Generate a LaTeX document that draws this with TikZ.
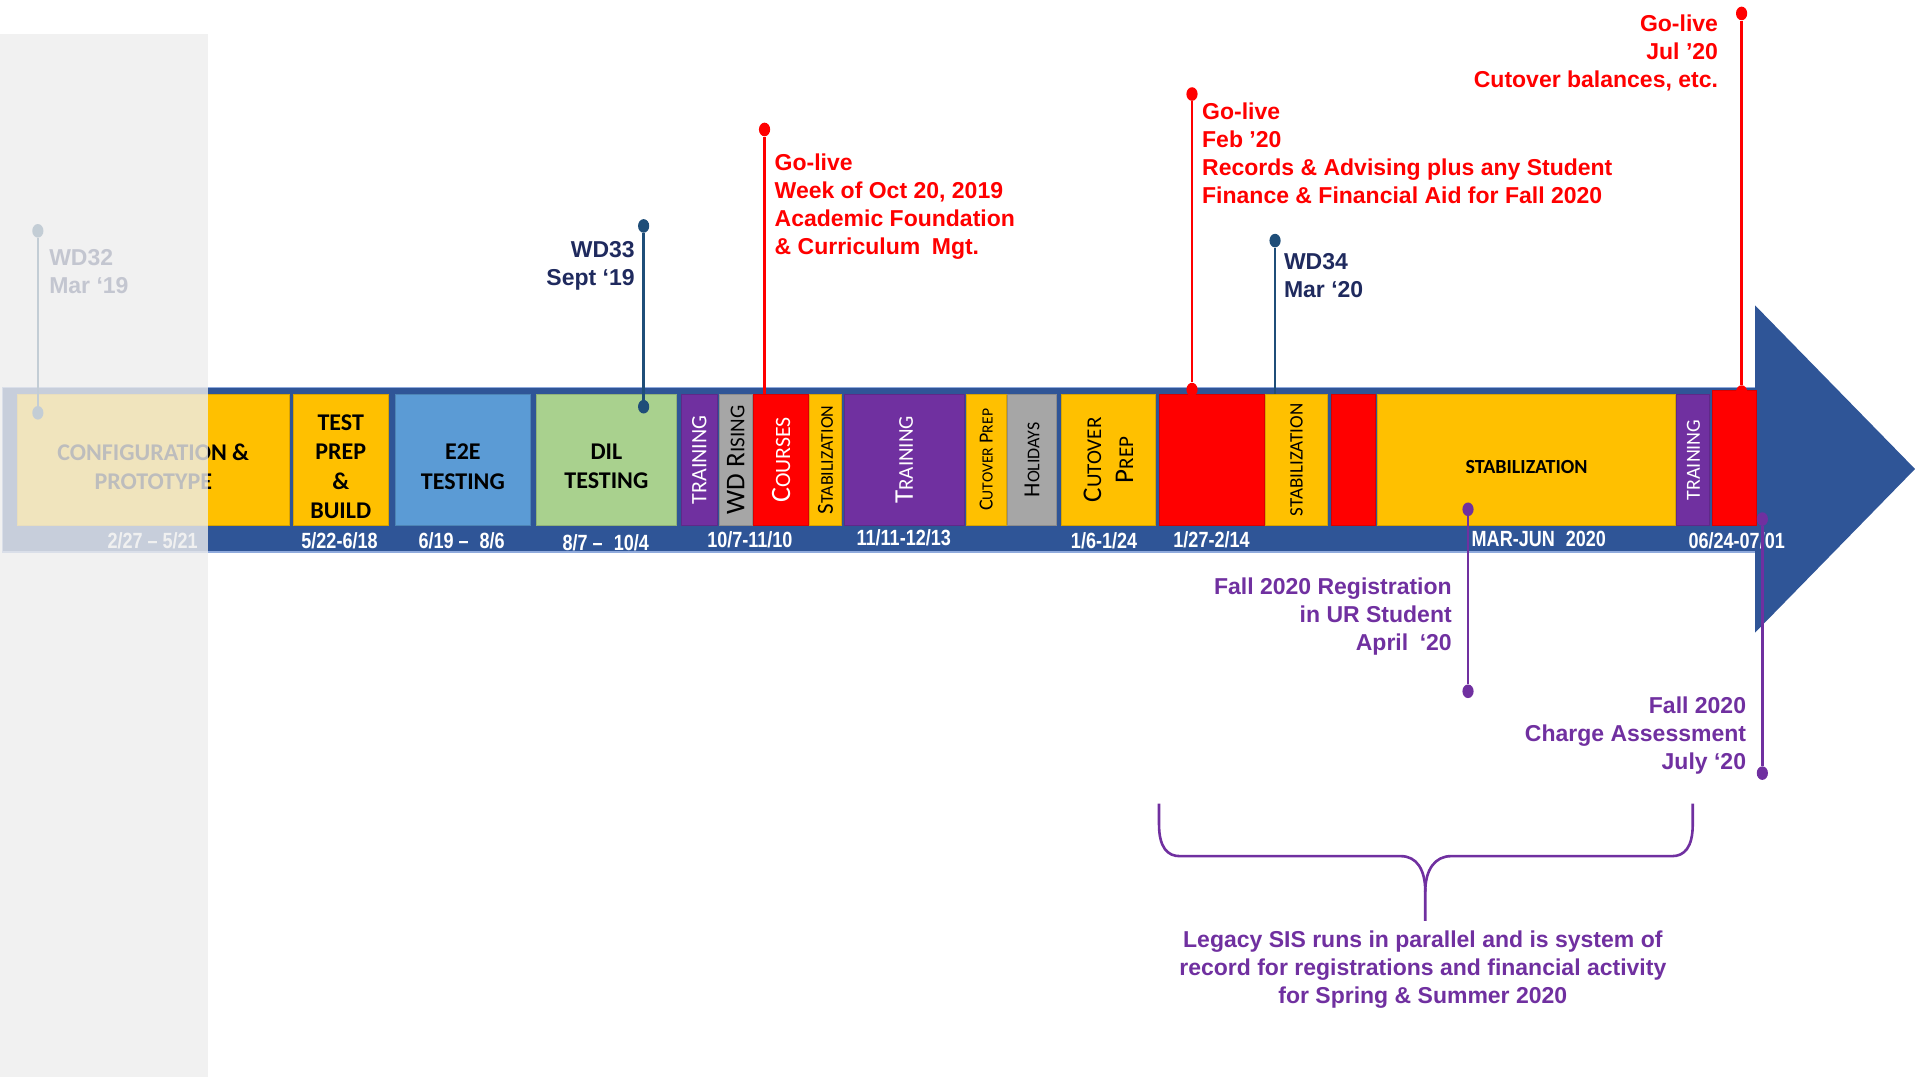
\documentclass[tikz,border=0pt]{standalone}
\usepackage{fontspec}
\usepackage{graphicx}
\setmainfont{Liberation Sans}
\newfontfamily\calfont{Carlito}
\newfontfamily\narrowfont[FakeStretch=0.82]{Liberation Sans}
\usetikzlibrary{fit, shapes.geometric}

\definecolor{bandblue}{HTML}{2F5597}
\definecolor{bandedge}{HTML}{8FAADC}
\definecolor{gold}{HTML}{FFC000}
\definecolor{skyblue}{HTML}{5B9BD5}
\definecolor{leaf}{HTML}{A9D18E}
\definecolor{phpurple}{HTML}{7030A0}
\definecolor{phgrey}{HTML}{A6A6A6}
\definecolor{phred}{HTML}{FF0000}
\definecolor{navyline}{HTML}{1F4E79}
\definecolor{navytext}{HTML}{1F2A5E}
\definecolor{fade}{HTML}{EDEDED}

\newcommand\smc[1]{\scalebox{0.78}{#1}}

\tikzset{
  phasebox/.style={fill=#1, draw=#1!85!black, line width=0.4pt, inner sep=0pt, outer sep=0pt},
  boxtxt/.style={font=\calfont\bfseries\fontsize{12}{14.6}\selectfont, align=center, inner sep=0pt, yshift=-3.4pt},
  vtxt/.style={rotate=90, inner sep=0pt, font=\calfont\fontsize{#1}{#1}\selectfont},
  datetxt/.style={text=white, inner sep=0pt, font=\narrowfont\bfseries\fontsize{11}{13}\selectfont},
  mtxt/.style={inner sep=0pt, font=\bfseries\fontsize{11.5}{14}\selectfont},
  mdot/.style={ellipse, fill=#1, inner sep=0pt, minimum width=5.6pt, minimum height=6.8pt},
  mline/.style={draw=#1, line width=1.3pt},
}

\begin{document}
\begin{tikzpicture}[x=0.6107pt, y=-0.6107pt]
\useasboundingbox (0,0) rectangle (1568,882);

% timeline band and arrow head
\draw[fill=bandblue, draw=bandedge, line width=0.6pt] (2,317) rectangle (1438,452);
\fill[bandblue] (1437,250) -- (1568,384) -- (1437,518) -- cycle;

% phases
\node[phasebox=gold, fit={(14,323) (237,430)}] (cfg) {};
\node[boxtxt] (cfgt) at (cfg) {CONFIGURATION \&\\PROTOTYPE};
\node[phasebox=gold, fit={(240,323) (318,430)}] (tpb) {};
\node[boxtxt] (tpbt) at (tpb) {TEST\\PREP\\\&\\BUILD};
\node[phasebox=skyblue, fit={(324,323) (434,430)}] (e2e) {};
\node[boxtxt] (e2et) at (e2e) {E2E\\TESTING};
\node[phasebox=leaf, fit={(439,323) (554,430)}] (dil) {};
\node[boxtxt] (dilt) at (dil) {DIL\\TESTING};

\node[phasebox=phpurple, fit={(558,323) (587,430)}] (tr1) {};
\node[vtxt=11, text=white] (tr1t) at (tr1) {TRAINING};
\node[phasebox=phgrey, fit={(589,323) (616,430)}] (wdr) {};
\node[vtxt=13.5] (wdrt) at (wdr) {WD R\smc{ISING}};
\node[phasebox=phred, fit={(617,323) (662,430)}] (crs) {};
\node[vtxt=14, text=white] (crst) at (crs) {C\smc{OURSES}};
\node[phasebox=gold, fit={(663,323) (689,430)}] (stb1) {};
\node[vtxt=11.5] (stb1t) at (stb1) {S\smc{TABILIZATION}};
\node[phasebox=phpurple, fit={(691,323) (790,430)}] (tr2) {};
\node[vtxt=13.5, text=white] (tr2t) at (tr2) {T\smc{RAINING}};
\node[phasebox=gold, fit={(791,323) (824,430)}] (cut1) {};
\node[vtxt=10] (cut1t) at (cut1) {C\smc{UTOVER} P\smc{REP}};
\node[phasebox=phgrey, fit={(825,323) (865,430)}] (hol) {};
\node[vtxt=11.5] (holt) at (hol) {H\smc{OLIDAYS}};
\node[phasebox=gold, fit={(869,323) (946,430)}] (cut2) {};
\node[vtxt=13.5, font=\calfont\fontsize{13.5}{16}\selectfont, align=center] (cut2t) at (cut2) {C\smc{UTOVER}\\P\smc{REP}};
\node[phasebox=phred, fit={(949,323) (1035,430)}] (red1) {};
\node[phasebox=gold, fit={(1036,323) (1087,430)}] (stb2) {};
\node[vtxt=9.5] (stb2t) at (stb2) {STABILIZATION};
\node[phasebox=phred, fit={(1090,323) (1126,430)}] (red2) {};
\node[phasebox=gold, fit={(1128,323) (1372,430)}] (stb3) {};
\node[boxtxt, font=\calfont\bfseries\fontsize{10}{12}\selectfont] (stb3t) at (stb3) {STABILIZATION};
\node[phasebox=phpurple, fit={(1373,323) (1400,430)}] (tr3) {};
\node[vtxt=10, text=white] (tr3t) at (tr3) {TRAINING};
\node[phasebox=phred, fit={(1402,320) (1438,430)}] (red3) {};

% dates
\node[datetxt] (d1) at (125,443) {2/27 – 5/21};
\node[datetxt] (d2) at (278,443) {5/22-6/18};
\node[datetxt] (d3) at (378,443) {6/19 –\enspace 8/6};
\node[datetxt] (d4) at (496,444) {8/7 –\enspace 10/4};
\node[datetxt] (d5) at (614,442) {10/7-11/10};
\node[datetxt] (d6) at (740,440) {11/11-12/13};
\node[datetxt] (d7) at (904,443) {1/6-1/24};
\node[datetxt] (d8) at (992,442) {1/27-2/14};
\node[datetxt] (d9) at (1260,441) {MAR-JUN\enspace 2020};
\node[datetxt] (d10) at (1422,443) {06/24-07/01};

% milestones above the band
\node[mdot=navyline] (wd32a) at (31,189) {};
\node[mdot=navyline] (wd32b) at (31,338) {};
\draw[mline=navyline] (wd32a) -- (wd32b);
\node[mtxt, text=navytext, anchor=north west, align=left] (wd32t) at (40,204) {WD32\\Mar ‘19};

\node[mdot=navyline] (wd33a) at (527,185) {};
\node[mdot=navyline] (wd33b) at (527,333) {};
\draw[mline=navyline] (wd33a) -- (wd33b);
\node[mtxt, text=navytext, anchor=north east, align=right] (wd33t) at (520,197) {WD33\\Sept ‘19};

\node[mdot=phred] (gl1a) at (626,106) {};
\coordinate (gl1b) at (626,323);
\draw[mline=phred] (gl1a) -- (gl1b);
\node[mtxt, text=phred, anchor=north west, align=left] (gl1t) at (634,126) {Go-live\\Week of Oct 20, 2019\\Academic Foundation\\\& Curriculum\enspace Mgt.};

\node[mdot=phred] (gl2a) at (976,77) {};
\node[mdot=phred] (gl2b) at (976,319) {};
\draw[mline=phred] (gl2a) -- (gl2b);
\node[mtxt, text=phred, anchor=north west, align=left] (gl2t) at (984,84) {Go-live\\Feb ’20\\Records \& Advising plus any Student\\Finance \& Financial Aid for Fall 2020};

\node[mdot=navyline] (wd34a) at (1044,197) {};
\coordinate (wd34b) at (1044,323);
\draw[mline=navyline] (wd34a) -- (wd34b);
\node[mtxt, text=navytext, anchor=north west, align=left] (wd34t) at (1051,207) {WD34\\Mar ‘20};

\node[mdot=phred] (gl3a) at (1426,11) {};
\node[mdot=phred] (gl3b) at (1426,321) {};
\draw[mline=phred] (gl3a) -- (gl3b);
\node[mtxt, text=phred, anchor=north east, align=right] (gl3t) at (1407,12) {Go-live\\Jul ’20\\Cutover balances, etc.};

% milestones below the band
\node[mdot=phpurple] (regA) at (1202,417) {};
\node[mdot=phpurple] (regB) at (1202,566) {};
\draw[mline=phpurple] (regA) -- (regB);
\node[mtxt, text=phpurple, anchor=north east, align=right] (regt) at (1189,473) {Fall 2020 Registration\\in UR Student\\April\enspace‘20};

\node[mdot=phpurple] (chgA) at (1443,425) {};
\node[mdot=phpurple] (chgB) at (1443,633) {};
\draw[mline=phpurple] (chgA) -- (chgB);
\node[mtxt, text=phpurple, anchor=north east, align=right] (chgt) at (1430,570) {Fall 2020\\Charge Assessment\\July ‘20};

% legacy brace
\coordinate (tip) at (1167,754);
\draw[phpurple, line width=1.3pt] (949,658) -- (949,675) .. controls (949,694) and (956,701) .. (966,701) -- (1147,701) .. controls (1160,701) and (1167,712) .. (1167,730) -- (tip);
\draw[phpurple, line width=1.3pt] (1386,658) -- (1386,675) .. controls (1386,694) and (1379,701) .. (1369,701) -- (1188,701) .. controls (1175,701) and (1167,712) .. (1167,730);
\node[mtxt, text=phpurple, anchor=north, align=center] (legacy) at (1165,762) {Legacy SIS runs in parallel and is system of\\record for registrations and financial activity\\for Spring \& Summer 2020};

% faded past
\fill[fade, opacity=0.8] (0,28) rectangle (170,882);
\end{tikzpicture}
\end{document}
